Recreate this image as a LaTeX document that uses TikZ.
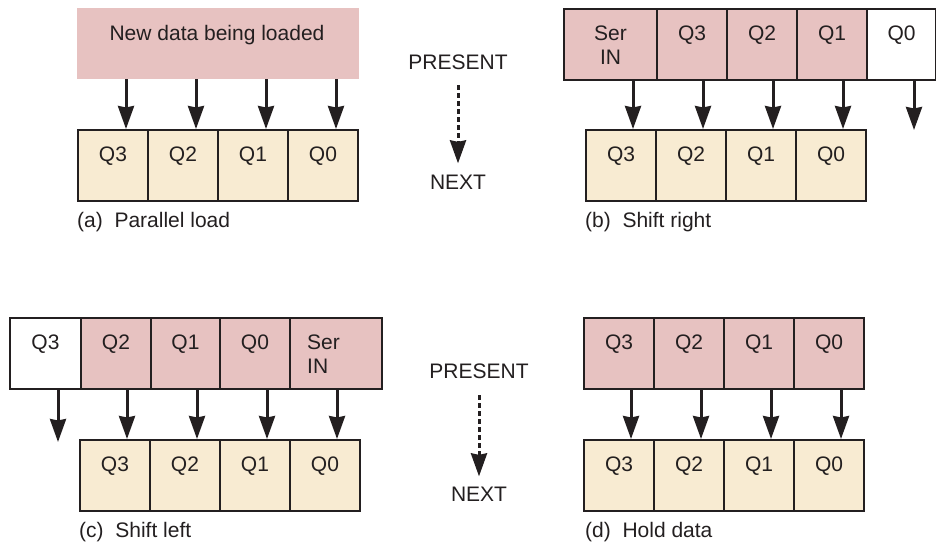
\documentclass[tikz,border=0pt]{standalone}
\usepackage{fontspec}
\setmainfont{Liberation Sans}
\usetikzlibrary{arrows.meta}
\definecolor{pinkc}{RGB}{231,194,193}
\definecolor{creamc}{RGB}{248,235,210}
\definecolor{inkc}{RGB}{35,31,32}
\begin{document}
\begin{tikzpicture}[x=1pt,y=-1pt,
  font=\fontsize{21}{24}\selectfont,
  cell/.style={draw=inkc, line width=2pt, inner sep=0pt, anchor=north west, minimum height=71pt},
  wide/.style={minimum width=#1},
  txt/.style={inner sep=0pt, anchor=base, text=inkc},
  twoline/.style={inner sep=0pt, anchor=north, text=inkc},
  arr/.style={line width=3pt, draw=inkc, -{Stealth[length=23pt,width=16pt,inset=1.5pt]}},
  darr/.style={arr, dash pattern=on 5pt off 3pt},
]
\useasboundingbox (0,0) rectangle (936,549);

% ---------- (a) Parallel load ----------
\node[fill=pinkc, inner sep=0pt, minimum width=282pt, minimum height=71pt, anchor=north west] (ald) at (77,8) {};
\node[txt] (aldt) at (217,40.5) {New data being loaded};
\foreach \i/\q in {0/3,1/2,2/1,3/0} {
  \node[cell, wide=70pt, fill=creamc] (al\q) at (77+70*\i,129) {};
  \node[txt] at ([yshift=-32.5pt]al\q.north) {Q\q};
  \draw[arr] ([xshift=13pt]al\q.north |- ald.south) -- ([xshift=13pt]al\q.north);
}
\node[txt, anchor=base west] (alab) at (77,227.5) {(a)~~Parallel load};

% PRESENT / NEXT (top)
\node[txt] (p1) at (458,69.5) {PRESENT};
\node[txt] (n1) at (458,189.5) {NEXT};
\draw[darr] ([yshift=-15.5pt]p1.south) -- ([yshift=11.5pt]n1.north);

% ---------- (b) Shift right ----------
\node[cell, wide=93pt, fill=pinkc] (bus) at (563,8) {};
\node[twoline, align=center] at ([yshift=-17.5pt]bus.north) {Ser\\IN};
\foreach \i/\q in {0/3,1/2,2/1} {
  \node[cell, wide=70pt, fill=pinkc] (bu\q) at (656+70*\i,8) {};
  \node[txt] at ([yshift=-32.5pt]bu\q.north) {Q\q};
}
\node[cell, wide=69pt, fill=white] (bu0) at (866,8) {};
\node[txt] at ([yshift=-32.5pt]bu0.north) {Q0};
\foreach \i/\q in {0/3,1/2,2/1,3/0} {
  \node[cell, wide=70pt, fill=creamc] (bl\q) at (585+70*\i,129) {};
  \node[txt] at ([yshift=-32.5pt]bl\q.north) {Q\q};
  \draw[arr] ([xshift=12pt]bl\q.north |- bus.south) -- ([xshift=12pt]bl\q.north);
}
\coordinate (bend) at (914,130);
\draw[arr] (bu0.south -| bend) -- (bend);
\node[txt, anchor=base west] (blab) at (585,227.5) {(b)~~Shift right};

% ---------- (c) Shift left ----------
\node[cell, wide=71pt, fill=white] (cu3) at (9,317) {};
\node[cell, wide=70pt, fill=pinkc] (cu2) at (80,317) {};
\node[cell, wide=69pt, fill=pinkc] (cu1) at (150,317) {};
\node[cell, wide=70pt, fill=pinkc] (cu0) at (219,317) {};
\node[cell, wide=92pt, fill=pinkc] (cus) at (289,317) {};
\foreach \q in {3,2,1,0} {
  \node[txt] at ([yshift=-32.5pt]cu\q.north) {Q\q};
}
\node[twoline, anchor=north west, align=left] at (307,334.5) {Ser\\IN};
\foreach \i/\q in {0/3,1/2,2/1,3/0} {
  \node[cell, wide=70pt, fill=creamc] (cl\q) at (79+70*\i,439) {};
  \node[txt] at ([yshift=-32.5pt]cl\q.north) {Q\q};
  \draw[arr] ([xshift=12pt]cl\q.north |- cus.south) -- ([xshift=12pt]cl\q.north);
}
\coordinate (cend) at (58,442);
\draw[arr] (cu3.south -| cend) -- (cend);
\node[txt, anchor=base west] (clab) at (79,537.5) {(c)~~Shift left};

% PRESENT / NEXT (bottom)
\node[txt] (p2) at (479,378) {PRESENT};
\node[txt] (n2) at (479,501) {NEXT};
\draw[darr] ([yshift=-17pt]p2.south) -- ([yshift=10pt]n2.north);

% ---------- (d) Hold data ----------
\foreach \i/\q in {0/3,1/2,2/1,3/0} {
  \node[cell, wide=70pt, fill=pinkc] (du\q) at (583+70*\i,317) {};
  \node[txt] at ([yshift=-32.5pt]du\q.north) {Q\q};
  \node[cell, wide=70pt, fill=creamc] (dl\q) at (583+70*\i,439) {};
  \node[txt] at ([yshift=-32.5pt]dl\q.north) {Q\q};
  \draw[arr] ([xshift=12pt]du\q.south) -- ([xshift=12pt]dl\q.north);
}
\node[txt, anchor=base west] (dlab) at (585,537.5) {(d)~~Hold data};
\end{tikzpicture}
\end{document}
